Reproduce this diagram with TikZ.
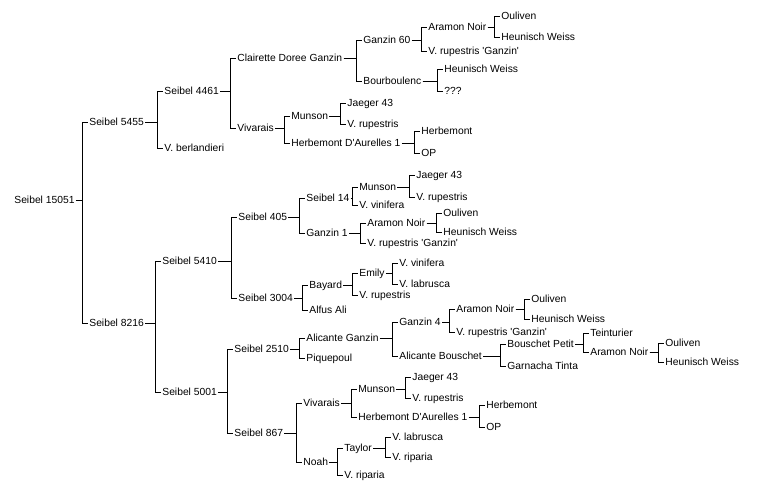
\documentclass[tikz,border=0pt]{standalone}
\usepackage{fontspec}
\setmainfont{Liberation Sans}
\begin{document}
\begin{tikzpicture}[x=1pt,y=-1pt,line width=0.8pt,
    every node/.style={anchor=west,inner sep=1pt,text height=7.5pt,text depth=0pt,
      font=\fontsize{10.3}{12}\selectfont},
    bracket/.style={to path={(\tikztostart.east) -| ([xshift=-6pt]\tikztotarget.west) -- (\tikztotarget.west)}}]
      \useasboundingbox (0,0) rectangle (759,498);
      \draw
        (13,200) node (0){Seibel 15051}
        (88,122) node (1){Seibel 5455}
        (88,323) node (2){Seibel 8216}
        (163,91) node (3){Seibel 4461}
        (163,148) node (4){V. berlandieri}
        (236,58) node (5){Clairette Doree Ganzin}
        (236,128) node (6){Vivarais}
        (362,40) node (7){Ganzin 60}
        (362,81) node (8){Bourboulenc}
        (427,27) node (9){Aramon Noir}
        (427,51) node (10){V. rupestris \textquotesingle Ganzin\textquotesingle}
        (500,16) node (11){Ouliven}
        (500,37) node (12){Heunisch Weiss}
        (443,69) node (13){Heunisch Weiss}
        (443,91) node (14){???}
        (290,116) node (15){Munson}
        (290,143) node (16){Herbemont D\textquotesingle Aurelles 1}
        (346,103) node (17){Jaeger 43}
        (346,124) node (18){V. rupestris}
        (420,131) node (19){Herbemont}
        (420,153) node (20){OP}
        (161,261) node (21){Seibel 5410}
        (161,392) node (22){Seibel 5001}
        (237,217) node (23){Seibel 405}
        (237,298) node (24){Seibel 3004}
        (305,198) node (25){Seibel 14}
        (305,233) node (26){Ganzin 1}
        (358,187) node (27){Munson}
        (358,205) node (28){V. vinifera}
        (415,175) node (29){Jaeger 43}
        (415,197) node (30){V. rupestris}
        (366,223) node (31){Aramon Noir}
        (366,243) node (32){V. rupestris \textquotesingle Ganzin\textquotesingle}
        (442,213) node (33){Ouliven}
        (442,232) node (34){Heunisch Weiss}
        (308,285) node (35){Bayard}
        (308,310) node (36){Alfus Ali}
        (358,273) node (37){Emily}
        (358,295) node (38){V. rupestris}
        (398,263) node (39){V. vinifera}
        (398,284) node (40){V. labrusca}
        (233,349) node (41){Seibel 2510}
        (233,433) node (42){Seibel 867}
        (305,338) node (43){Alicante Ganzin}
        (305,358) node (44){Piquepoul}
        (398,322) node (45){Ganzin 4}
        (398,356) node (46){Alicante Bouschet}
        (455,309) node (47){Aramon Noir}
        (455,332) node (48){V. rupestris \textquotesingle Ganzin\textquotesingle}
        (530,299) node (49){Ouliven}
        (530,319) node (50){Heunisch Weiss}
        (506,344) node (51){Bouschet Petit}
        (506,366) node (52){Garnacha Tinta}
        (589,333) node (53){Teinturier}
        (589,352) node (54){Aramon Noir}
        (664,343) node (55){Ouliven}
        (664,362) node (56){Heunisch Weiss}
        (302,403) node (57){Vivarais}
        (302,462) node (58){Noah}
        (357,389) node (59){Munson}
        (357,417) node (60){Herbemont D\textquotesingle Aurelles 1}
        (411,377) node (61){Jaeger 43}
        (411,398) node (62){V. rupestris}
        (485,405) node (63){Herbemont}
        (485,427) node (64){OP}
        (343,448) node (65){Taylor}
        (343,475) node (66){V. riparia}
        (391,437) node (67){V. labrusca}
        (391,457) node (68){V. riparia};
      \begin{scope}[bracket]
        \draw (0) to (1);
        \draw (0) to (2);
        \draw (1) to (3);
        \draw (1) to (4);
        \draw (3) to (5);
        \draw (3) to (6);
        \draw (5) to (7);
        \draw (5) to (8);
        \draw (7) to (9);
        \draw (7) to (10);
        \draw (9) to (11);
        \draw (9) to (12);
        \draw (8) to (13);
        \draw (8) to (14);
        \draw (6) to (15);
        \draw (6) to (16);
        \draw (15) to (17);
        \draw (15) to (18);
        \draw (16) to (19);
        \draw (16) to (20);
        \draw (2) to (21);
        \draw (2) to (22);
        \draw (21) to (23);
        \draw (21) to (24);
        \draw (23) to (25);
        \draw (23) to (26);
        \draw (25) to (27);
        \draw (25) to (28);
        \draw (27) to (29);
        \draw (27) to (30);
        \draw (26) to (31);
        \draw (26) to (32);
        \draw (31) to (33);
        \draw (31) to (34);
        \draw (24) to (35);
        \draw (24) to (36);
        \draw (35) to (37);
        \draw (35) to (38);
        \draw (37) to (39);
        \draw (37) to (40);
        \draw (22) to (41);
        \draw (22) to (42);
        \draw (41) to (43);
        \draw (41) to (44);
        \draw (43) to (45);
        \draw (43) to (46);
        \draw (45) to (47);
        \draw (45) to (48);
        \draw (47) to (49);
        \draw (47) to (50);
        \draw (46) to (51);
        \draw (46) to (52);
        \draw (51) to (53);
        \draw (51) to (54);
        \draw (54) to (55);
        \draw (54) to (56);
        \draw (42) to (57);
        \draw (42) to (58);
        \draw (57) to (59);
        \draw (57) to (60);
        \draw (59) to (61);
        \draw (59) to (62);
        \draw (60) to (63);
        \draw (60) to (64);
        \draw (58) to (65);
        \draw (58) to (66);
        \draw (65) to (67);
        \draw (65) to (68);
      \end{scope}
    \end{tikzpicture}
\end{document}
